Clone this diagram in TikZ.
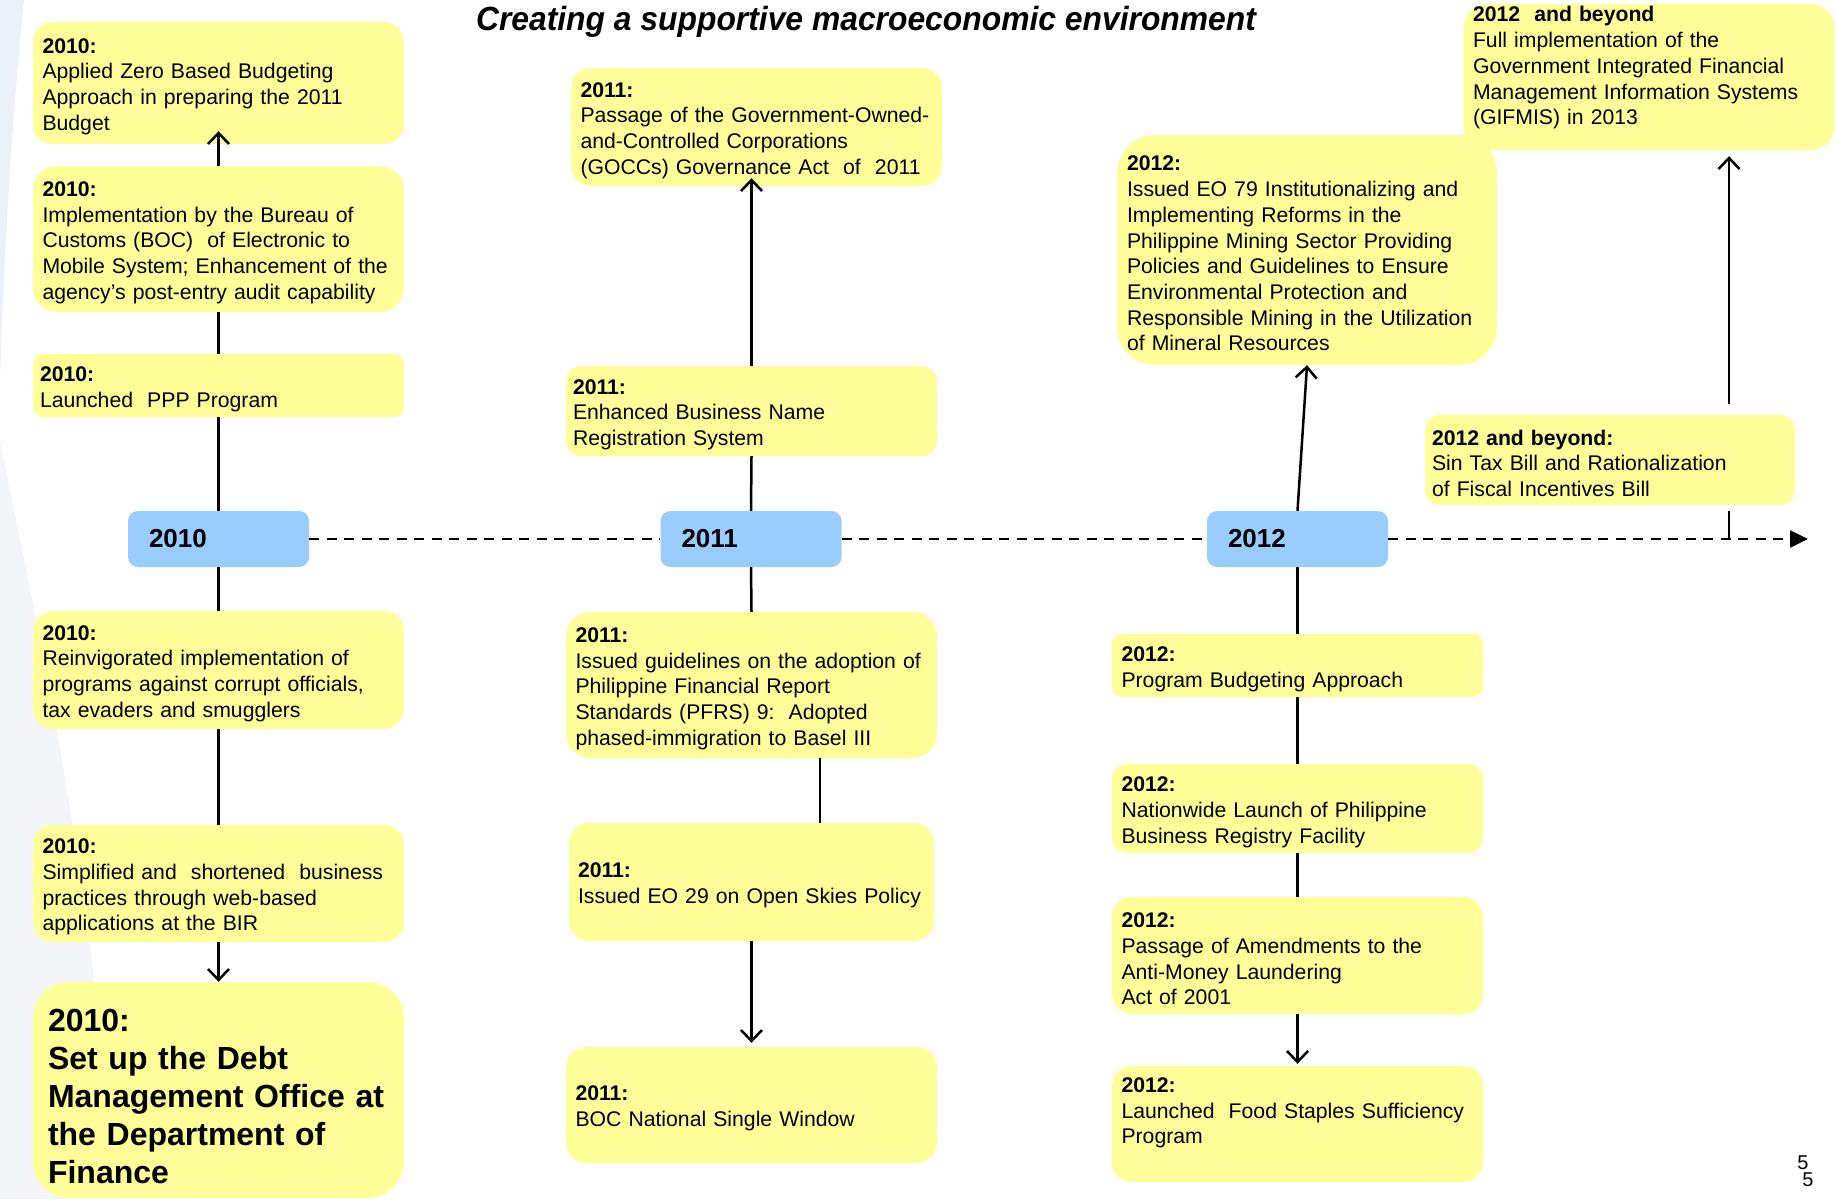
\documentclass[tikz,border=0pt]{standalone}
\usepackage{fontspec}
\setmainfont{Liberation Sans}
\newfontfamily\titlefamily[FakeStretch=0.95]{Liberation Sans}
\definecolor{eventyellow}{RGB}{255,255,153}
\definecolor{yearblue}{RGB}{153,204,255}
\definecolor{swooshblue}{RGB}{236,241,248}
\definecolor{swooshgrey}{RGB}{243,245,249}
\usepackage{tikz}
\usetikzlibrary{arrows.meta,calc}
\newcommand{\eventfont}{\fontsize{21.2}{25.7}\selectfont}
\newcommand{\bigeventfont}{\fontsize{32}{38}\selectfont\bfseries}
\newcommand{\yearfont}{\fontsize{26}{30}\selectfont\bfseries}

\begin{document}
\begin{tikzpicture}[x=1pt,y=-1pt,
    event/.style={fill=eventyellow, rounded corners=20pt, text width=352pt, inner xsep=9.5pt, inner ysep=3pt, text height=22pt, align=left, font=\eventfont},
    yearbox/.style={fill=yearblue, rounded corners=10pt, minimum height=56pt, text width=139pt, inner xsep=21pt, align=left, font=\yearfont},
    connector/.style={line width=2.5pt},
    arrowlink/.style={connector, -{Straight Barb[length=11pt,width=21pt]}},
    timeline/.style={line width=2.5pt, dash pattern=on 10pt off 7.5pt}]

\useasboundingbox (0,0) rectangle (1838,1199);
\fill[swooshblue] (0,0) -- (24,0) .. controls (12,120) and (4,250) .. (0,380) -- cycle;
\fill[swooshgrey] (0,440) .. controls (45,660) and (95,900) .. (115,1199) -- (0,1199) -- cycle;

\node[font=\titlefamily\fontsize{33.5}{38}\selectfont\bfseries\itshape, anchor=base] (title) at (866,31) {Creating a supportive macroeconomic environment};

% 2010
\node[event, minimum height=122pt] (zbb) at (218.5,83) {\textbf{2010:}\\Applied Zero Based Budgeting\\Approach in preparing the 2011\\Budget};
\node[event, minimum height=146pt, rounded corners=24pt] (bocmobile) at (218.5,239) {\textbf{2010:}\\Implementation by the Bureau of\\Customs (BOC)\ \ of Electronic to\\Mobile System; Enhancement of the\\agency’s post-entry audit capability};
\node[event, minimum height=63pt, rounded corners=10pt, inner xsep=7pt, text width=357pt] (ppp) at (218.5,385.5) {\textbf{2010:}\\Launched\ \ PPP Program};
\node[yearbox] (y2010) at (218.5,539) {2010};
\node[event, minimum height=118pt] (corrupt) at (218.5,670) {\textbf{2010:}\\Reinvigorated implementation of\\programs against corrupt officials,\\tax evaders and smugglers};
\node[event, minimum height=117pt] (birweb) at (218.5,883.5) {\textbf{2010:}\\Simplified and\ \ shortened\ \ business\\practices through web-based\\applications at the BIR};
\node[event, minimum height=216pt, rounded corners=36pt, inner xsep=15pt, text width=341pt, text height=35pt, font=\bigeventfont] (debtoffice) at (218.5,1090) {2010:\\Set up the Debt\\Management Office at\\the Department of\\Finance};

% 2011
\node[event, minimum height=118pt] (gocc) at (756.5,127) {\textbf{2011:}\\Passage of the Government-Owned-\\and-Controlled Corporations\\(GOCCs) Governance Act\ \ of\ \ 2011};
\node[event, minimum height=90pt, rounded corners=15pt, inner xsep=7pt, text width=357pt] (bizname) at (751.5,411) {\textbf{2011:}\\Enhanced Business Name\\Registration System};
\node[yearbox] (y2011) at (751,539) {2011};
\node[event, minimum height=146pt, rounded corners=24pt] (pfrs) at (751.5,685) {\textbf{2011:}\\Issued guidelines on the adoption of\\Philippine Financial Report\\Standards (PFRS) 9:\ \ Adopted\\phased-immigration to Basel III};
\node[event, minimum height=118pt, text width=347pt, inner xsep=9pt] (openskies) at (751.5,882) {\textbf{2011:}\\Issued EO 29 on Open Skies Policy};
\node[event, minimum height=116pt] (singlewindow) at (751.5,1105) {\textbf{2011:}\\BOC National Single Window};

% 2012
\node[event, minimum height=230pt, rounded corners=38pt, text width=360pt, inner xsep=10pt] (mining) at (1307,250) {\textbf{2012:}\\Issued EO 79 Institutionalizing and\\Implementing Reforms in the\\Philippine Mining Sector Providing\\Policies and Guidelines to Ensure\\Environmental Protection and\\Responsible Mining in the Utilization\\of Mineral Resources};
\node[yearbox] (y2012) at (1297.5,539) {2012};
\node[event, minimum height=63pt, rounded corners=10pt] (progbudget) at (1297.5,665.5) {\textbf{2012:}\\Program Budgeting Approach};
\node[event, minimum height=89pt, rounded corners=15pt] (registry) at (1297.5,808.5) {\textbf{2012:}\\Nationwide Launch of Philippine\\Business Registry Facility};
\node[event, minimum height=117pt] (amla) at (1297.5,955.5) {\textbf{2012:}\\Passage of Amendments to the\\Anti-Money Laundering\\Act of 2001};
\node[event, minimum height=116pt, inner ysep=0pt, text height=26.5pt, text depth=89.5pt] (foodstaples) at (1297.5,1124) {\textbf{2012:}\\Launched\ \ Food Staples Sufficiency\\Program};

% 2012 and beyond
\node[event, minimum height=146pt, rounded corners=24pt, inner ysep=0pt, text height=18pt, text depth=128pt] (gifmis) at (1649,77) {\textbf{2012\ \ and beyond}\\Full implementation of the\\Government Integrated Financial\\Management Information Systems\\(GIFMIS) in 2013};
\node[event, minimum height=90pt, rounded corners=15pt, inner xsep=7pt, text width=356pt] (sintax) at (1610,460) {\textbf{2012 and beyond:}\\Sin Tax Bill and Rationalization\\of Fiscal Incentives Bill};

\coordinate (axisend) at (1808,539);

\draw[arrowlink, shorten >=-13pt] (bocmobile.north) -- (zbb.south);
\draw[connector] (ppp.north) -- (bocmobile.south);
\draw[connector] (y2010.north) -- (ppp.south);
\draw[connector] (y2010.south) -- (corrupt.north);
\draw[connector] (corrupt.south) -- (birweb.north);
\draw[arrowlink] (birweb.south) -- (debtoffice.north);

\draw[arrowlink, shorten >=-8pt] (bizname.north) -- (bizname.north |- gocc.south);
\draw[connector] (y2011.north) -- (bizname.south);
\draw[connector] (y2011.south) -- (pfrs.north);
\draw[connector] ([xshift=68.5pt]pfrs.south) -- ([xshift=68.5pt]openskies.north);
\draw[arrowlink, shorten >=4pt] (openskies.south) -- (singlewindow.north);

\draw[arrowlink] (y2012.north) -- (mining.south);
\draw[connector] (y2012.south) -- (progbudget.north);
\draw[connector] (progbudget.south) -- (registry.north);
\draw[connector] (registry.south) -- (amla.north);
\draw[arrowlink, shorten >=2pt] (amla.south) -- (foodstaples.north);

\draw[arrowlink] ([xshift=119pt,yshift=11pt]sintax.north) -- ([xshift=80pt,yshift=-6pt]gifmis.south);
\draw[connector] ([xshift=119pt,yshift=-6pt]sintax.south) -- ($(sintax.south |- axisend)+(119,0)$);

\draw[timeline] (y2010.east) -- (y2011.west);
\draw[timeline] (y2011.east) -- (y2012.west);
\draw[timeline, -{Triangle[length=18pt,width=17pt]}] (y2012.east) -- (axisend);

\node[font=\fontsize{20}{24}\selectfont] (pagenum) at (1803,1163) {5};
\node[font=\fontsize{20}{24}\selectfont] (pagenumdup) at (1808,1180) {5};
\end{tikzpicture}
\end{document}
